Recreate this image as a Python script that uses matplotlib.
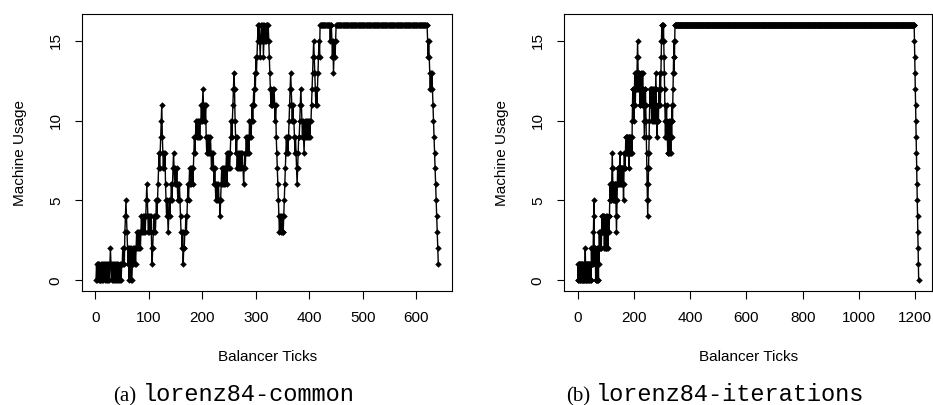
import matplotlib
matplotlib.use('Agg')
import matplotlib.pyplot as plt
import numpy as np

# Machine usage at each balancer tick, one character per tick.
# Characters are base-17 digits: 0-9 then a=10 ... g=16.
usage_common = (
    "0101101001" "0101011010" "1010101210" "1010101010" "1010101011"
    "2121345432" "1202102012" "1212123232" "3232343434" "3434565434"
    "3434212343" "4345456787" "89ab987878" "6545434545" "5656787676"
    "6765656543" "3231223343" "4565676767" "7678989a9a" "9a9a9aabab"
    "cbabab9898" "9898987878" "7676565656" "5545676767" "6767868787"
    "789a9abcdc" "a989787878" "7878776787" "8989898a9a" "9ababcbdce"
    "defgfgfefg" "gfgefgfgfg" "gfgfedcbcb" "bcbcbab987" "6543434343"
    "3456789898" "9abcdcbaba" "a989876789" "9abcba9a98" "9a9a9a9a9a"
    "9aabcdefed" "cbcbcdefeg" "gggggggggg" "ggggggggfg" "gfefdefefg"
)
plateau_common = 170          # ticks spent at 16 machines
tail_common = "fefedcdcdc" "ba987654321"

usage_iterations = (
    "0101010110" "1010101010" "0101012101" "0101010101" "1010101021"
    "2121234521" "2120102010" "2010213232" "3232343434" "4343232324"
    "3232343234" "4345656565" "6787656565" "6565654345" "6767676778"
    "7676767676" "7656787878" "9898989898" "8979898989" "898abcbcba"
    "bcdcbcdcdc" "defedcdcdc" "bcbcdcdcbc" "dcbcba9abc" "cba9876545"
    "6789abcbcb" "cbabcbabcb" "abcbabcdcb" "a9abababcb" "cdcbcdefgf"
    "gfgfgfedcb" "a9a9ab9a98" "989a9898a9" "89a9ababcd" "edfefggggg"
)
plateau_iterations = 846
tail_iterations = "fedcba9876543210"

captions = [("(a)", "lorenz84-common"), ("(b)", "lorenz84-iterations")]
xticks_list = [range(0, 601, 100), range(0, 1201, 200)]


def decode(head, plateau, tail):
    s = head + "g" * plateau + tail
    return np.array([int(c, 17) for c in s])


series = [decode(usage_common, plateau_common, tail_common),
          decode(usage_iterations, plateau_iterations, tail_iterations)]

plt.rcParams['font.family'] = ['Liberation Sans', 'DejaVu Sans']

fig = plt.figure(figsize=(9.33, 4.05), dpi=100)
W, H = 933, 405

boxes = [(82.3, 369.7), (564.3, 368.0)]   # left edge and width in px
top, bottom = 14.3, 290.7
cap_pos = [(113, 143), (566, 596)]

for i, y in enumerate(series):
    left, width = boxes[i]
    ax = fig.add_axes([left / W, 1 - bottom / H, width / W, (bottom - top) / H])
    x = np.arange(1, len(y) + 1)
    ax.plot(x, y, color='black', lw=1.0, marker='D', ms=3.3, mew=0)

    xr = x[-1] - x[0]
    ax.set_xlim(x[0] - 0.04 * xr, x[-1] + 0.04 * xr)
    ax.set_ylim(-0.64, 16.64)
    ax.set_xticks(list(xticks_list[i]))
    ax.set_yticks([0, 5, 10, 15])

    for sp in ax.spines.values():
        sp.set_linewidth(0.8)
    ax.tick_params(direction='out', length=5.4, width=0.8, labelsize=11)
    ax.tick_params(axis='x', pad=9.5)
    ax.tick_params(axis='y', pad=8.6, labelrotation=90)
    for lab in ax.get_yticklabels():
        lab.set_va('center')

    ax.set_xlabel('Balancer Ticks', fontsize=11)
    ax.set_ylabel('Machine Usage', fontsize=11)
    ax.xaxis.set_label_coords(0.5, -0.215)
    ax.yaxis.set_label_coords((27 - 82.3) / 369.7, 0.5)

    tag, name = captions[i]
    fig.text(cap_pos[i][0] / W, 4 / H, tag, family='Liberation Serif',
             fontsize=15, va='baseline')
    fig.text(cap_pos[i][1] / W, 4 / H, name, family='Liberation Mono',
             fontsize=17, va='baseline')

fig.savefig('out.png', dpi=100)
